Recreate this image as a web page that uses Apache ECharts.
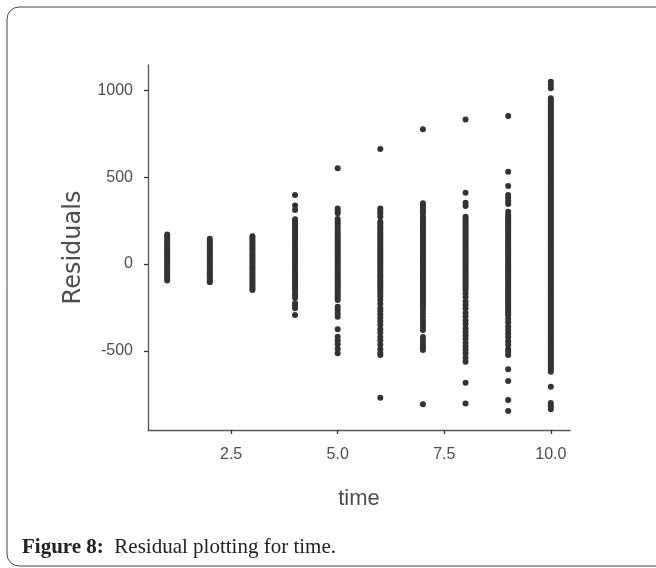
<!DOCTYPE html>
<html>
<head>
<meta charset="utf-8">
<script src="https://cdn.jsdelivr.net/npm/echarts@6/dist/echarts.min.js"></script>
<style>
html,body{margin:0;padding:0;background:#fff;}
#chart{width:656px;height:568px;}
</style>
</head>
<body>
<div id="chart"></div>
<script>
// time values (x positions on a numeric axis)
const times = [1, 2, 3, 4, 5, 6, 7, 8, 9, 10];

// residuals, one array per time value
const r1 = [170,158,146,134,122,110,98,86,74,62,50,38,26,14,2,-10,-22,-34,-46,-58,-70,-82,-95];
const r2 = [145,133,121,109,97,85,73,61,49,37,25,13,1,-11,-23,-35,-47,-59,-71,-83,-95,-105];
const r3 = [160,148,136,124,112,100,88,76,64,52,40,28,16,4,-8,-20,-32,-44,-56,-68,-80,-92,-104,-116,-128,-140,-150];
const r4 = [397,336,311,257,245,234,222,212,200,188,176,164,152,140,128,116,104,92,80,68,56,44,32,20,8,-4,-16,-28,-40,-52,-64,-76,-88,-100,-112,-124,-136,-150,-168,-180,-196,-226,-240,-254,-293];
const r5 = [551,320,306,292,259,245,230,215,198,182,167,157,145,133,121,109,97,85,73,61,49,37,25,13,1,-11,-23,-35,-47,-59,-71,-83,-95,-107,-119,-131,-143,-155,-167,-180,-193,-207,-246,-265,-285,-303,-376,-418,-440,-462,-488,-514];
const r6 = [662,320,305,290,272,243,231,219,207,195,183,171,159,147,135,123,111,99,87,75,63,51,39,27,15,3,-9,-21,-33,-45,-57,-69,-81,-93,-105,-117,-129,-141,-155,-169,-185,-205,-228,-255,-270,-290,-310,-330,-350,-375,-395,-420,-440,-465,-490,-510,-524,-769];
const r7 = [775,349,335,320,305,292,272,260,248,236,224,212,200,188,176,164,152,140,128,116,104,92,80,68,56,44,32,20,8,-4,-16,-28,-40,-52,-64,-76,-88,-100,-112,-124,-136,-148,-160,-172,-184,-196,-208,-220,-233,-246,-265,-285,-305,-325,-345,-362,-380,-420,-440,-460,-478,-495,-807];
const r8 = [832,410,353,334,272,260,248,236,224,212,200,188,176,164,152,140,128,116,104,92,80,68,56,44,32,20,8,-4,-16,-28,-40,-52,-64,-76,-88,-100,-112,-124,-136,-150,-170,-190,-215,-235,-255,-280,-300,-325,-345,-370,-390,-410,-430,-455,-475,-495,-515,-540,-562,-683,-802];
const r9 = [852,531,449,397,380,362,345,301,282,270,258,246,234,222,210,198,186,174,162,150,138,126,114,102,90,78,66,54,42,30,18,6,-6,-18,-30,-42,-54,-66,-78,-90,-102,-114,-126,-138,-150,-162,-174,-186,-198,-210,-222,-234,-246,-258,-270,-282,-293,-315,-335,-360,-380,-400,-420,-445,-465,-490,-505,-524,-606,-673,-782,-846];
const r10 = [1049,1030,1011,953,941,929,917,905,893,881,869,857,845,833,821,809,797,785,773,761,749,737,725,713,701,689,677,665,653,641,629,617,605,593,581,569,557,545,533,521,509,497,485,473,461,449,437,425,413,401,389,377,365,353,341,329,317,305,293,281,269,257,245,233,221,209,197,185,173,161,149,137,125,113,101,89,77,65,53,41,29,17,5,-7,-19,-31,-43,-55,-67,-79,-91,-103,-115,-127,-139,-151,-163,-175,-187,-199,-211,-223,-235,-247,-259,-271,-283,-295,-307,-319,-331,-343,-355,-367,-379,-391,-403,-415,-427,-439,-451,-463,-475,-487,-499,-511,-523,-535,-547,-559,-571,-583,-595,-607,-620,-706,-800,-818,-836];
const residualsByTime = [r1, r2, r3, r4, r5, r6, r7, r8, r9, r10];

// axis tick values and labels
const xTickValues = [2.5, 5, 7.5, 10];
const xTickLabels = ['2.5', '5.0', '7.5', '10.0'];
const yTickValues = [-500, 0, 500, 1000];
const yTickLabels = ['-500', '0', '500', '1000'];

const points = [];
times.forEach((t, i) => residualsByTime[i].forEach(v => points.push([t, v])));

function labelFor(values, labels) {
  return v => {
    for (let i = 0; i < values.length; i++) if (Math.abs(values[i] - v) < 1e-6) return labels[i];
    return '';
  };
}

const sans = "'Liberation Sans', Arial, sans-serif";
const axisColor = '#555';
const textColor = '#4d4d4d';

const chart = echarts.init(document.getElementById('chart'), null, {renderer: 'canvas'});
chart.setOption({
  animation: false,
  backgroundColor: '#fff',
  grid: {left: 148, top: 65, right: 86, bottom: 138, containLabel: false},
  xAxis: {
    type: 'value', min: 0.55, max: 10.45,
    axisLine: {show: true, onZero: false, lineStyle: {color: axisColor, width: 1.3}},
    axisTick: {show: true, length: 4, customValues: xTickValues, lineStyle: {color: '#333', width: 1.3}},
    axisLabel: {customValues: xTickValues, formatter: labelFor(xTickValues, xTickLabels), color: textColor, fontSize: 16, fontFamily: sans, margin: 17},
    splitLine: {show: false},
    name: 'time', nameLocation: 'middle', nameGap: 58,
    nameTextStyle: {fontSize: 22, color: textColor, fontFamily: sans}
  },
  yAxis: {
    type: 'value', min: -955, max: 1145,
    axisLine: {show: true, onZero: false, lineStyle: {color: axisColor, width: 1.3}},
    axisTick: {show: true, length: 4, customValues: yTickValues, lineStyle: {color: '#333', width: 1.3}},
    axisLabel: {customValues: yTickValues, formatter: labelFor(yTickValues, yTickLabels), color: textColor, fontSize: 16, fontFamily: sans, margin: 15},
    splitLine: {show: false},
    name: 'Residuals', nameLocation: 'middle', nameGap: 62, nameRotate: 90,
    nameTextStyle: {fontSize: 24, color: textColor, fontFamily: "'DejaVu Sans', sans-serif"}
  },
  series: [{
    type: 'scatter',
    data: points,
    symbol: 'circle',
    symbolSize: 6,
    itemStyle: {color: '#333', opacity: 1},
    emphasis: {disabled: true}
  }],
  graphic: [
    {type: 'rect', shape: {x: 7, y: 7, width: 665, height: 559, r: 12}, style: {fill: 'none', stroke: '#444', lineWidth: 1}, silent: true},
    {type: 'text', left: 22, top: 537, style: {
      text: '{b|Figure 8:}  {r|Residual plotting for time.}',
      rich: {
        b: {fontFamily: "'Liberation Serif', serif", fontWeight: 'bold', fontSize: 21, fill: '#222'},
        r: {fontFamily: "'Liberation Serif', serif", fontSize: 21, fill: '#222'}
      },
      font: "21px 'Liberation Serif', serif", fill: '#222'
    }}
  ]
});
</script>
</body>
</html>
